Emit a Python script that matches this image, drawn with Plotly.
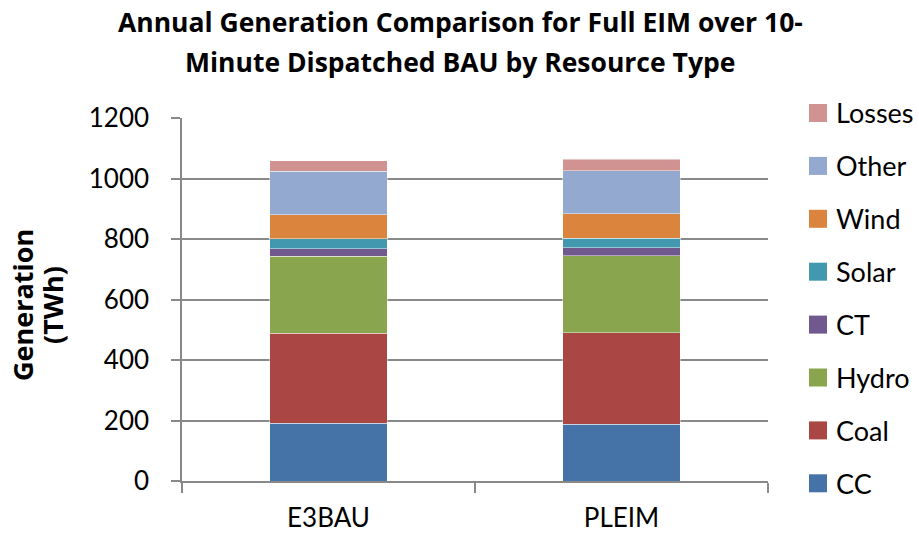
import plotly.graph_objects as go

# Scenarios on the category axis
scenarios = ["E3BAU", "PLEIM"]

# Annual generation by resource type (TWh), stacked bottom to top
cc = [191, 187]
coal = [297, 303]
hydro = [255, 255]
ct = [25, 26]
solar = [33, 31]
wind = [79, 81]
other = [144, 142]
losses = [35, 38]

series = [
    ("CC", cc, "#4572A7"),
    ("Coal", coal, "#AA4643"),
    ("Hydro", hydro, "#89A54E"),
    ("CT", ct, "#71588F"),
    ("Solar", solar, "#4198AF"),
    ("Wind", wind, "#DB843D"),
    ("Other", other, "#93A9CF"),
    ("Losses", losses, "#D19392"),
]

y_ticks = [0, 200, 400, 600, 800, 1000, 1200]

FONT = "Lato"
TITLE_FONT = "Open Sans"

W, H = 919, 535
ML, MR, MT, MB = 182, 151, 118, 54
PW, PH = W - ML - MR, H - MT - MB


def px_x(px):
    """Pixel column -> paper x."""
    return (px - ML) / PW


def px_y(py):
    """Pixel row (from top) -> paper y."""
    return (H - MB - py) / PH


fig = go.Figure()
for name, vals, color in series:
    fig.add_trace(go.Bar(
        name=name,
        x=scenarios,
        y=vals,
        showlegend=False,
        marker=dict(color=color, line=dict(color="rgba(255,255,255,0.45)", width=1)),
    ))

# Legend drawn as swatches + labels, top entry is the top of the stack
annotations = []
shapes = []
legend_top, legend_step, sw = 113, 52.9, 18
for i, (name, _, color) in enumerate(reversed(series)):
    cy = legend_top + i * legend_step
    shapes.append(dict(
        type="rect", xref="paper", yref="paper",
        x0=px_x(809), x1=px_x(809 + sw),
        y0=px_y(cy + sw / 2), y1=px_y(cy - sw / 2),
        fillcolor=color, line=dict(width=0),
    ))
    annotations.append(dict(
        text=name, xref="paper", yref="paper",
        x=px_x(834), y=px_y(cy), xanchor="left", yanchor="middle",
        showarrow=False, font=dict(family=FONT, size=27, color="black"),
    ))

# Two-line chart title
title_lines = [
    "Annual Generation Comparison for Full EIM over 10-",
    "Minute Dispatched BAU by Resource Type",
]
for text, cy in zip(title_lines, [22, 62]):
    annotations.append(dict(
        text=f"<b>{text}</b>", xref="paper", yref="paper",
        x=px_x(460), y=px_y(cy), xanchor="center", yanchor="middle",
        showarrow=False, font=dict(family=TITLE_FONT, size=26.5, color="black"),
    ))

# Y-axis title, two rotated lines
for text, cx in zip(["Generation", "(TWh)"], [22, 52]):
    annotations.append(dict(
        text=f"<b>{text}</b>", xref="paper", yref="paper",
        x=px_x(cx), y=px_y(305), xanchor="center", yanchor="middle",
        textangle=-90, showarrow=False,
        font=dict(family=TITLE_FONT, size=27, color="black"),
    ))

fig.update_layout(
    width=W,
    height=H,
    barmode="stack",
    bargap=0.6,
    plot_bgcolor="white",
    paper_bgcolor="white",
    font=dict(family=FONT, size=26, color="black"),
    margin=dict(l=ML, r=MR, t=MT, b=MB, autoexpand=False),
    showlegend=False,
    annotations=annotations,
    shapes=shapes,
    xaxis=dict(
        showline=True, linecolor="#898989", linewidth=1.5,
        ticks="outside", ticklen=10, tickcolor="#898989", tickwidth=1.5,
        tickson="boundaries",
        ticklabelstandoff=13,
        tickfont=dict(family=FONT, size=26),
        automargin=False,
    ),
    yaxis=dict(
        range=[0, 1200],
        tickvals=y_ticks,
        showline=True, linecolor="#898989", linewidth=1.5,
        ticks="outside", ticklen=9, tickcolor="#898989", tickwidth=1.5,
        ticklabelstandoff=17,
        showgrid=True, gridcolor="#898989", gridwidth=1.5,
        zeroline=False,
        tickfont=dict(family=FONT, size=26),
        automargin=False,
    ),
)

fig.write_html("out.html")
